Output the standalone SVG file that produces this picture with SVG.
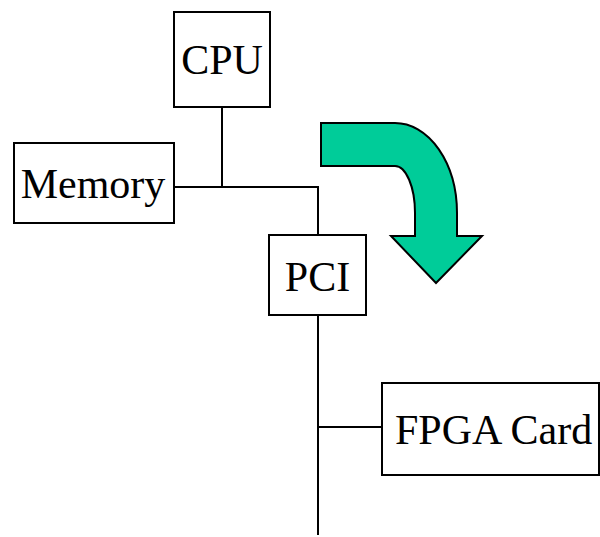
<svg xmlns="http://www.w3.org/2000/svg" width="600" height="537" viewBox="0 0 600 537">
  <style>
    .box { fill: #ffffff; stroke: #000000; stroke-width: 2; }
    .lbl { font-family: "Liberation Serif", "Times New Roman", serif; font-size: 42px; fill: #000000; }
    .wire { fill: none; stroke: #000000; stroke-width: 2; }
  </style>
  <rect width="600" height="537" fill="#ffffff"/>

  <!-- bus wiring -->
  <g id="connectors">
    <line class="wire" x1="222" y1="107" x2="222" y2="187"/>
    <polyline class="wire" points="174,187 318,187 318,235"/>
    <line class="wire" x1="318" y1="315" x2="318" y2="535"/>
    <line class="wire" x1="318" y1="427" x2="382" y2="427"/>
  </g>

  <!-- curved data-flow arrow -->
  <g id="flow-arrow">
    <path d="M321,123 L395,123 A62,90 0 0 1 457,213 L457,236 L482,236 L436,283 L391,236 L415,236 L415,213 A20,47 0 0 0 395,166 L321,166 Z"
          fill="#00CC99" stroke="#000000" stroke-width="2" stroke-linejoin="miter"/>
  </g>

  <g id="cpu">
    <rect class="box" x="174" y="12" width="96" height="95"/>
    <text class="lbl" x="222" y="74" text-anchor="middle">CPU</text>
  </g>

  <g id="memory">
    <rect class="box" x="14" y="143" width="160" height="80"/>
    <text class="lbl" x="93" y="198" text-anchor="middle">Memory</text>
  </g>

  <g id="pci">
    <rect class="box" x="269" y="235" width="97" height="80"/>
    <text class="lbl" x="317.5" y="291" text-anchor="middle">PCI</text>
  </g>

  <g id="fpga-card">
    <rect class="box" x="382" y="383" width="217" height="92"/>
    <text class="lbl" x="395" y="444">FPGA Card</text>
  </g>
</svg>
